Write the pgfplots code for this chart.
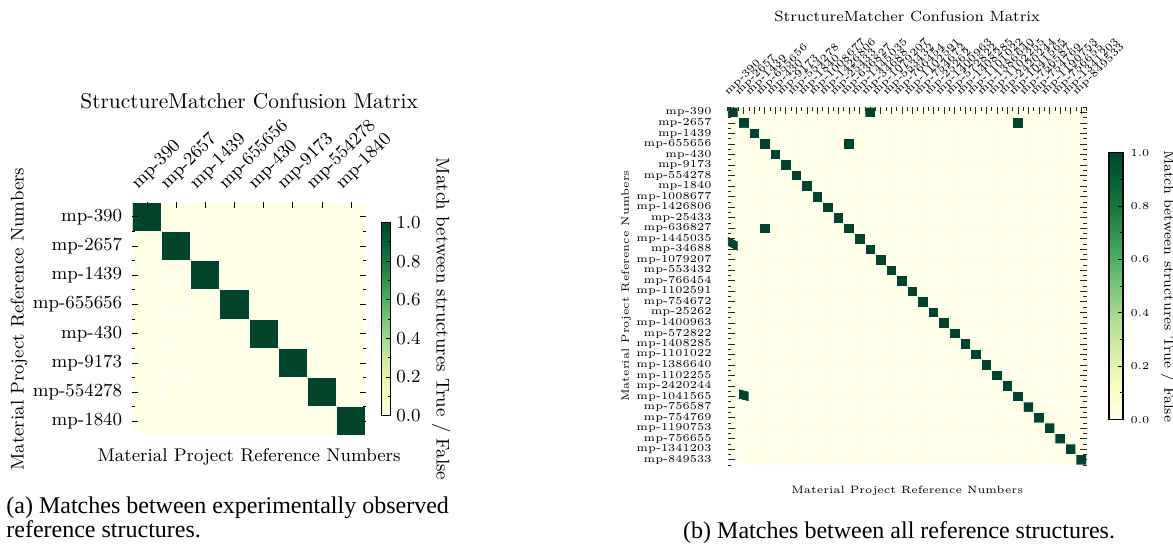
\documentclass[border=0pt]{standalone}
\usepackage{fontspec}
\newfontfamily\capfont{Liberation Serif}
\usepackage{pgfplots}
\pgfplotsset{compat=1.18}
\pgfplotsset{colormap={ylgn}{rgb255=(255,255,229) rgb255=(247,252,185) rgb255=(217,240,163) rgb255=(173,221,142) rgb255=(120,198,121) rgb255=(65,171,93) rgb255=(35,132,67) rgb255=(0,104,55) rgb255=(0,69,41)}}
\newcommand\fa{\fontsize{9.2}{11}\selectfont}
\newcommand\fb{\fontsize{5.3}{6.4}\selectfont}
\begin{document}
\begin{tikzpicture}
\useasboundingbox (0,0) rectangle (586.5pt,272pt);
% ---------------- (a)
\begin{axis}[
  at={(66.2pt,54pt)}, anchor=south west,
  scale only axis, width=116.7pt, height=116.9pt,
  xmin=-0.5, xmax=7.5, ymin=-0.5, ymax=7.5, y dir=reverse,
  enlargelimits=false, axis on top,
  axis line style={draw=none},
  xtick={0,...,7}, ytick={0,...,7},
  minor ytick={0.5,1.5,...,6.5},
  xticklabels={mp-390,mp-2657,mp-1439,mp-655656,mp-430,mp-9173,mp-554278,mp-1840},
  yticklabels={mp-390,mp-2657,mp-1439,mp-655656,mp-430,mp-9173,mp-554278,mp-1840},
  xtick pos=right, xticklabel pos=right,
  ytick pos=both, yticklabel pos=left,
  tick align=inside,
  major tick length=3pt, minor tick length=1.5pt,
  tick style={black, line width=0.4pt},
  xticklabel style={font=\fa, xshift=-3.2pt, rotate=45, anchor=south west},
  yticklabel style={font=\fa, xshift=-1.6pt},
  title={StructureMatcher Confusion Matrix},
  title style={font=\fontsize{10.7}{12}\selectfont, at={(axis description cs:0.5,1)}, anchor=base, yshift=41pt},
  xlabel={Material Project Reference Numbers},
  xlabel style={font=\fa, at={(axis description cs:0.5,0)}, anchor=base, yshift=-13pt},
  ylabel={Material Project Reference Numbers},
  ylabel style={font=\fa, at={(axis description cs:-0.4854,0.5)}, anchor=center},
  colorbar, point meta min=0, point meta max=1,
  colorbar style={
    at={(parent axis.east)}, anchor=west, xshift=-0.85pt,
    scale only axis, width=4.85pt, height=96.6pt,
    axis line style={draw=black, line width=0.6pt},
    ytick={0,0.2,...,1}, minor ytick={0.1,0.3,...,0.9},
    ytick pos=right, yticklabel pos=right,
    tick align=inside, major tick length=2.5pt, minor tick length=1.5pt,
    tick style={black, line width=0.4pt},
    yticklabel style={font=\fa, xshift=-0.8pt, /pgf/number format/fixed, /pgf/number format/fixed zerofill, /pgf/number format/precision=1, /pgf/number format/assume math mode=true},
    ylabel={Match between structures True / False},
    ylabel style={font=\fa, at={(axis description cs:6.19,0.5)}, anchor=center, rotate=180},
  },
]
\addplot[matrix plot*, mesh/cols=8, point meta=explicit, draw=white, line width=0.5pt]
table[header=false, row sep=\\, x expr={mod(\coordindex,8)}, y expr={floor(\coordindex/8)}, meta index=0] {
1\\0\\0\\0\\0\\0\\0\\0\\
0\\1\\0\\0\\0\\0\\0\\0\\
0\\0\\1\\0\\0\\0\\0\\0\\
0\\0\\0\\1\\0\\0\\0\\0\\
0\\0\\0\\0\\1\\0\\0\\0\\
0\\0\\0\\0\\0\\1\\0\\0\\
0\\0\\0\\0\\0\\0\\1\\0\\
0\\0\\0\\0\\0\\0\\0\\1\\
};
\end{axis}
% ---------------- (b)
\begin{axis}[
  at={(363.9pt,39.5pt)}, anchor=south west,
  scale only axis, width=179.4pt, height=178.9pt,
  xmin=-0.5, xmax=33.5, ymin=-0.5, ymax=33.5, y dir=reverse,
  enlargelimits=false, axis on top,
  axis line style={draw=none},
  xtick={0,...,33}, ytick={0,...,33},
  minor xtick={-0.5,0.5,...,33.5},
  minor ytick={-0.5,0.5,...,33.5},
  xticklabels={mp-390,mp-2657,mp-1439,mp-655656,mp-430,mp-9173,mp-554278,mp-1840,mp-1008677,mp-1426806,mp-25433,mp-636827,mp-1445035,mp-34688,mp-1079207,mp-553432,mp-766454,mp-1102591,mp-754672,mp-25262,mp-1400963,mp-572822,mp-1408285,mp-1101022,mp-1386640,mp-1102255,mp-2420244,mp-1041565,mp-756587,mp-754769,mp-1190753,mp-756655,mp-1341203,mp-849533},
  yticklabels={mp-390,mp-2657,mp-1439,mp-655656,mp-430,mp-9173,mp-554278,mp-1840,mp-1008677,mp-1426806,mp-25433,mp-636827,mp-1445035,mp-34688,mp-1079207,mp-553432,mp-766454,mp-1102591,mp-754672,mp-25262,mp-1400963,mp-572822,mp-1408285,mp-1101022,mp-1386640,mp-1102255,mp-2420244,mp-1041565,mp-756587,mp-754769,mp-1190753,mp-756655,mp-1341203,mp-849533},
  xtick pos=right, xticklabel pos=right,
  ytick pos=both, yticklabel pos=left,
  tick align=inside,
  major tick length=3.5pt, minor tick length=1.7pt,
  tick style={black!85, line width=0.4pt},
  xticklabel style={font=\fb, xshift=-1.7pt, rotate=45, anchor=south west},
  yticklabel style={font=\fb, xshift=-4.6pt},
  title={StructureMatcher Confusion Matrix},
  title style={font=\fontsize{7.4}{8}\selectfont, at={(axis description cs:0.5,1)}, anchor=base, yshift=36.7pt},
  xlabel={Material Project Reference Numbers},
  xlabel style={font=\fb, at={(axis description cs:0.5,0)}, anchor=base, yshift=-14.5pt},
  ylabel={Material Project Reference Numbers},
  ylabel style={font=\fb, at={(axis description cs:-0.2834,0.5)}, anchor=center},
  colorbar, point meta min=0, point meta max=1,
  colorbar style={
    at={(parent axis.east)}, anchor=west, xshift=2.65pt,
    scale only axis, width=7pt, height=133.5pt,
    axis line style={draw=black, line width=0.6pt},
    ytick={0,0.2,...,1}, minor ytick={0.1,0.3,...,0.9},
    ytick pos=right, yticklabel pos=right,
    tick align=inside, major tick length=2.5pt, minor tick length=1.5pt,
    tick style={black, line width=0.4pt},
    yticklabel style={font=\fb, xshift=0.3pt, /pgf/number format/fixed, /pgf/number format/fixed zerofill, /pgf/number format/precision=1, /pgf/number format/assume math mode=true},
    ylabel={Match between structures True / False},
    ylabel style={font=\fontsize{7}{8}\selectfont, at={(axis description cs:4.21,0.5)}, anchor=center, rotate=180},
  },
]
\addplot[matrix plot*, mesh/cols=34, point meta=explicit, draw=white, line width=0.4pt]
table[header=false, row sep=\\, x expr={mod(\coordindex,34)}, y expr={floor(\coordindex/34)}, meta index=0] {
1\\0\\0\\0\\0\\0\\0\\0\\0\\0\\ 0\\0\\0\\1\\0\\0\\0\\0\\0\\0\\ 0\\0\\0\\0\\0\\0\\0\\0\\0\\0\\ 0\\0\\0\\0\\
0\\1\\0\\0\\0\\0\\0\\0\\0\\0\\ 0\\0\\0\\0\\0\\0\\0\\0\\0\\0\\ 0\\0\\0\\0\\0\\0\\0\\1\\0\\0\\ 0\\0\\0\\0\\
0\\0\\1\\0\\0\\0\\0\\0\\0\\0\\ 0\\0\\0\\0\\0\\0\\0\\0\\0\\0\\ 0\\0\\0\\0\\0\\0\\0\\0\\0\\0\\ 0\\0\\0\\0\\
0\\0\\0\\1\\0\\0\\0\\0\\0\\0\\ 0\\1\\0\\0\\0\\0\\0\\0\\0\\0\\ 0\\0\\0\\0\\0\\0\\0\\0\\0\\0\\ 0\\0\\0\\0\\
0\\0\\0\\0\\1\\0\\0\\0\\0\\0\\ 0\\0\\0\\0\\0\\0\\0\\0\\0\\0\\ 0\\0\\0\\0\\0\\0\\0\\0\\0\\0\\ 0\\0\\0\\0\\
0\\0\\0\\0\\0\\1\\0\\0\\0\\0\\ 0\\0\\0\\0\\0\\0\\0\\0\\0\\0\\ 0\\0\\0\\0\\0\\0\\0\\0\\0\\0\\ 0\\0\\0\\0\\
0\\0\\0\\0\\0\\0\\1\\0\\0\\0\\ 0\\0\\0\\0\\0\\0\\0\\0\\0\\0\\ 0\\0\\0\\0\\0\\0\\0\\0\\0\\0\\ 0\\0\\0\\0\\
0\\0\\0\\0\\0\\0\\0\\1\\0\\0\\ 0\\0\\0\\0\\0\\0\\0\\0\\0\\0\\ 0\\0\\0\\0\\0\\0\\0\\0\\0\\0\\ 0\\0\\0\\0\\
0\\0\\0\\0\\0\\0\\0\\0\\1\\0\\ 0\\0\\0\\0\\0\\0\\0\\0\\0\\0\\ 0\\0\\0\\0\\0\\0\\0\\0\\0\\0\\ 0\\0\\0\\0\\
0\\0\\0\\0\\0\\0\\0\\0\\0\\1\\ 0\\0\\0\\0\\0\\0\\0\\0\\0\\0\\ 0\\0\\0\\0\\0\\0\\0\\0\\0\\0\\ 0\\0\\0\\0\\
0\\0\\0\\0\\0\\0\\0\\0\\0\\0\\ 1\\0\\0\\0\\0\\0\\0\\0\\0\\0\\ 0\\0\\0\\0\\0\\0\\0\\0\\0\\0\\ 0\\0\\0\\0\\
0\\0\\0\\1\\0\\0\\0\\0\\0\\0\\ 0\\1\\0\\0\\0\\0\\0\\0\\0\\0\\ 0\\0\\0\\0\\0\\0\\0\\0\\0\\0\\ 0\\0\\0\\0\\
0\\0\\0\\0\\0\\0\\0\\0\\0\\0\\ 0\\0\\1\\0\\0\\0\\0\\0\\0\\0\\ 0\\0\\0\\0\\0\\0\\0\\0\\0\\0\\ 0\\0\\0\\0\\
1\\0\\0\\0\\0\\0\\0\\0\\0\\0\\ 0\\0\\0\\1\\0\\0\\0\\0\\0\\0\\ 0\\0\\0\\0\\0\\0\\0\\0\\0\\0\\ 0\\0\\0\\0\\
0\\0\\0\\0\\0\\0\\0\\0\\0\\0\\ 0\\0\\0\\0\\1\\0\\0\\0\\0\\0\\ 0\\0\\0\\0\\0\\0\\0\\0\\0\\0\\ 0\\0\\0\\0\\
0\\0\\0\\0\\0\\0\\0\\0\\0\\0\\ 0\\0\\0\\0\\0\\1\\0\\0\\0\\0\\ 0\\0\\0\\0\\0\\0\\0\\0\\0\\0\\ 0\\0\\0\\0\\
0\\0\\0\\0\\0\\0\\0\\0\\0\\0\\ 0\\0\\0\\0\\0\\0\\1\\0\\0\\0\\ 0\\0\\0\\0\\0\\0\\0\\0\\0\\0\\ 0\\0\\0\\0\\
0\\0\\0\\0\\0\\0\\0\\0\\0\\0\\ 0\\0\\0\\0\\0\\0\\0\\1\\0\\0\\ 0\\0\\0\\0\\0\\0\\0\\0\\0\\0\\ 0\\0\\0\\0\\
0\\0\\0\\0\\0\\0\\0\\0\\0\\0\\ 0\\0\\0\\0\\0\\0\\0\\0\\1\\0\\ 0\\0\\0\\0\\0\\0\\0\\0\\0\\0\\ 0\\0\\0\\0\\
0\\0\\0\\0\\0\\0\\0\\0\\0\\0\\ 0\\0\\0\\0\\0\\0\\0\\0\\0\\1\\ 0\\0\\0\\0\\0\\0\\0\\0\\0\\0\\ 0\\0\\0\\0\\
0\\0\\0\\0\\0\\0\\0\\0\\0\\0\\ 0\\0\\0\\0\\0\\0\\0\\0\\0\\0\\ 1\\0\\0\\0\\0\\0\\0\\0\\0\\0\\ 0\\0\\0\\0\\
0\\0\\0\\0\\0\\0\\0\\0\\0\\0\\ 0\\0\\0\\0\\0\\0\\0\\0\\0\\0\\ 0\\1\\0\\0\\0\\0\\0\\0\\0\\0\\ 0\\0\\0\\0\\
0\\0\\0\\0\\0\\0\\0\\0\\0\\0\\ 0\\0\\0\\0\\0\\0\\0\\0\\0\\0\\ 0\\0\\1\\0\\0\\0\\0\\0\\0\\0\\ 0\\0\\0\\0\\
0\\0\\0\\0\\0\\0\\0\\0\\0\\0\\ 0\\0\\0\\0\\0\\0\\0\\0\\0\\0\\ 0\\0\\0\\1\\0\\0\\0\\0\\0\\0\\ 0\\0\\0\\0\\
0\\0\\0\\0\\0\\0\\0\\0\\0\\0\\ 0\\0\\0\\0\\0\\0\\0\\0\\0\\0\\ 0\\0\\0\\0\\1\\0\\0\\0\\0\\0\\ 0\\0\\0\\0\\
0\\0\\0\\0\\0\\0\\0\\0\\0\\0\\ 0\\0\\0\\0\\0\\0\\0\\0\\0\\0\\ 0\\0\\0\\0\\0\\1\\0\\0\\0\\0\\ 0\\0\\0\\0\\
0\\0\\0\\0\\0\\0\\0\\0\\0\\0\\ 0\\0\\0\\0\\0\\0\\0\\0\\0\\0\\ 0\\0\\0\\0\\0\\0\\1\\0\\0\\0\\ 0\\0\\0\\0\\
0\\1\\0\\0\\0\\0\\0\\0\\0\\0\\ 0\\0\\0\\0\\0\\0\\0\\0\\0\\0\\ 0\\0\\0\\0\\0\\0\\0\\1\\0\\0\\ 0\\0\\0\\0\\
0\\0\\0\\0\\0\\0\\0\\0\\0\\0\\ 0\\0\\0\\0\\0\\0\\0\\0\\0\\0\\ 0\\0\\0\\0\\0\\0\\0\\0\\1\\0\\ 0\\0\\0\\0\\
0\\0\\0\\0\\0\\0\\0\\0\\0\\0\\ 0\\0\\0\\0\\0\\0\\0\\0\\0\\0\\ 0\\0\\0\\0\\0\\0\\0\\0\\0\\1\\ 0\\0\\0\\0\\
0\\0\\0\\0\\0\\0\\0\\0\\0\\0\\ 0\\0\\0\\0\\0\\0\\0\\0\\0\\0\\ 0\\0\\0\\0\\0\\0\\0\\0\\0\\0\\ 1\\0\\0\\0\\
0\\0\\0\\0\\0\\0\\0\\0\\0\\0\\ 0\\0\\0\\0\\0\\0\\0\\0\\0\\0\\ 0\\0\\0\\0\\0\\0\\0\\0\\0\\0\\ 0\\1\\0\\0\\
0\\0\\0\\0\\0\\0\\0\\0\\0\\0\\ 0\\0\\0\\0\\0\\0\\0\\0\\0\\0\\ 0\\0\\0\\0\\0\\0\\0\\0\\0\\0\\ 0\\0\\1\\0\\
0\\0\\0\\0\\0\\0\\0\\0\\0\\0\\ 0\\0\\0\\0\\0\\0\\0\\0\\0\\0\\ 0\\0\\0\\0\\0\\0\\0\\0\\0\\0\\ 0\\0\\0\\1\\
};
\end{axis}
% ---------------- captions
\node[anchor=base west, inner sep=0] at (3pt,15.35pt) {\capfont\fontsize{12}{14}\selectfont (a) Matches between experimentally observed};
\node[anchor=base west, inner sep=0] at (3pt,3.35pt) {\capfont\fontsize{12}{14}\selectfont reference structures.};
\node[anchor=base west, inner sep=0] at (341.4pt,2.5pt) {\capfont\fontsize{12}{14}\selectfont (b) Matches between all reference structures.};
\end{tikzpicture}
\end{document}
